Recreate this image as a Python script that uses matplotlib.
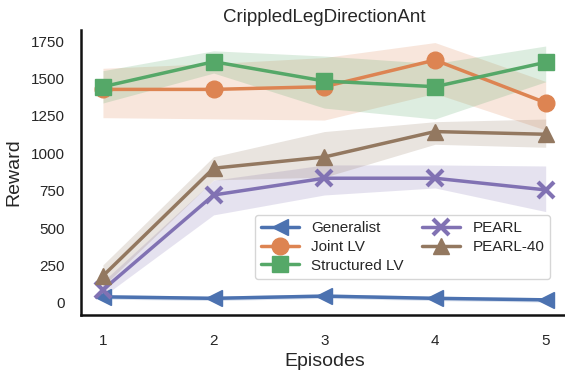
import matplotlib.pyplot as plt
import seaborn as sns
import numpy as np

sns.set_style('white')
plt.rcParams['font.family'] = ['Liberation Sans', 'DejaVu Sans']

episodes = [1, 2, 3, 4, 5]
methods = ['Generalist', 'Joint LV', 'Structured LV', 'PEARL', 'PEARL-40']

# mean reward and the lower/upper edges of the shaded band
generalist = [40, 30, 45, 30, 20]
generalist_lo = [25, 15, 30, 15, 5]
generalist_hi = [55, 45, 60, 45, 35]

joint_lv = [1427, 1427, 1445, 1623, 1338]
joint_lv_lo = [1238, 1230, 1222, 1400, 1155]
joint_lv_hi = [1568, 1600, 1640, 1740, 1480]

structured_lv = [1445, 1612, 1483, 1445, 1608]
structured_lv_lo = [1336, 1536, 1302, 1229, 1478]
structured_lv_hi = [1552, 1685, 1650, 1600, 1717]

pearl = [87, 721, 833, 833, 755]
pearl_lo = [42, 588, 721, 768, 610]
pearl_hi = [142, 820, 922, 922, 915]

pearl40 = [180, 900, 975, 1145, 1127]
pearl40_lo = [109, 822, 840, 1060, 1040]
pearl40_hi = [254, 977, 1145, 1211, 1229]

series = [
    (generalist, generalist_lo, generalist_hi, '<'),
    (joint_lv, joint_lv_lo, joint_lv_hi, 'o'),
    (structured_lv, structured_lv_lo, structured_lv_hi, 's'),
    (pearl, pearl_lo, pearl_hi, 'x'),
    (pearl40, pearl40_lo, pearl40_hi, '^'),
]
pal = sns.color_palette('deep')
colors = [pal[0], pal[1], pal[2], pal[4], pal[5]]

fig = plt.figure(figsize=(5.65, 3.77), dpi=100)
ax = fig.add_axes([0.143, 0.165, 0.862, 0.755])

for (mean, lo, hi, mk), name, c in zip(series, methods, colors):
    ax.fill_between(episodes, lo, hi, color=c, alpha=0.2, linewidth=0)
    ax.plot(episodes, mean, color=c, marker=mk, markersize=12,
            markeredgewidth=3 if mk == 'x' else 1, linewidth=2.5, label=name)

ax.set_xlim(0.8, 5.2)
ax.set_ylim(-80, 1823)
ax.set_xticks(episodes)
ax.set_yticks(np.arange(0, 1751, 250))
ax.tick_params(labelsize=11, pad=10)
ax.tick_params(axis='y', pad=8)
ax.set_xlabel('Episodes', fontsize=14)
ax.set_ylabel('Reward', fontsize=14, labelpad=6)
ax.set_title('CrippledLegDirectionAnt', fontsize=13.5)
for side in ['top', 'right']:
    ax.spines[side].set_visible(False)
for side in ['left', 'bottom']:
    ax.spines[side].set_color('#111111')
    ax.spines[side].set_linewidth(1.8)

ax.legend(ncol=2, fontsize=11, loc='lower right', bbox_to_anchor=(0.98, 0.1),
          columnspacing=1.2, handlelength=2.5, labelspacing=0.3)

fig.savefig('out.png', dpi=100)
